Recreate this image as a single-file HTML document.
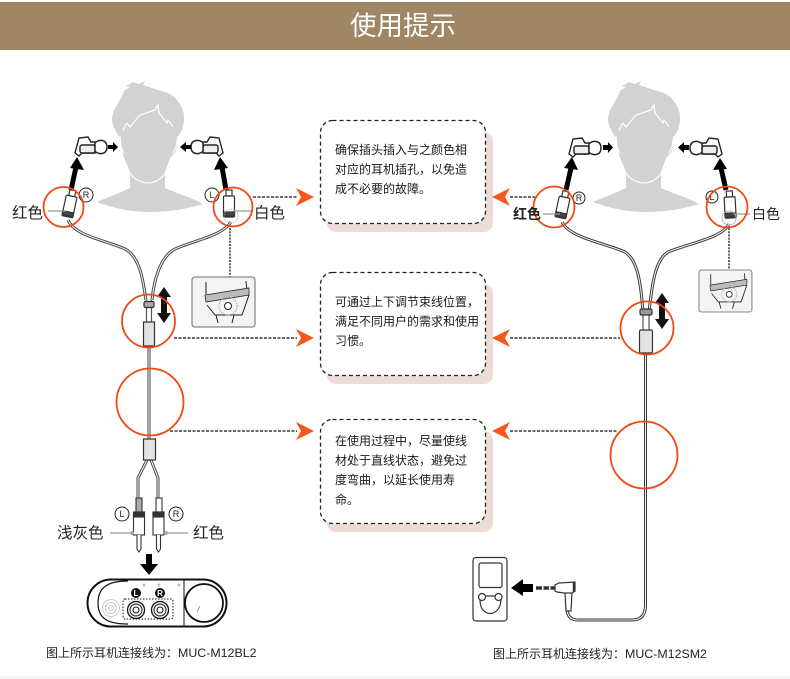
<!DOCTYPE html>
<html lang="zh"><head><meta charset="utf-8"><title>使用提示</title>
<style>
html,body{margin:0;padding:0;background:#fff}
body{width:790px;height:679px;overflow:hidden}
svg{display:block}
text{font-family:"Liberation Sans","Noto Sans CJK SC",sans-serif}
.b{font-size:12px;fill:#1a1a1a}
.l{font-size:15.5px;fill:#222}
.c{font-size:12px;fill:#222}
.s{font-size:9px;fill:#222;text-anchor:middle}
</style></head><body>
<svg width="790" height="679" viewBox="0 0 790 679" xmlns="http://www.w3.org/2000/svg">
<defs>
<g id="head">
<path d="M133 82L139 84L145 81L143 85L158 90C166 92 172 94 175 98C181 104 184 111 184 117C184 123 183 127 182 130L178 137L177 147L175 153L170 158L165 172L165 188C176 193 190 197 203 204C187 209 168 212 150 212C131 212 112 208 97 202C108 197 120 193 130 188L130 172L123 155L121 146L120 138C116 132 112 126 112 118C113 113 114 109 117 105L125 90L130 87L126 86Z" fill="#d2d2d2"/>
<path d="M123 130L127 123L130 127L140 115L155 110L158 105L159 113L167 123L168 120L173 127M129 172C133 178 140 183 148 183C156 183 163 178 167 170M120 136L121 147L124 153M178 136L176 147L173 153" fill="none" stroke="#fff" stroke-width="1.200"/>
</g>
<g id="bud" fill="none" stroke="#222" stroke-width="1.400">
<path d="M1 18L5 3L14 2L17 7L21 7L21 18L8 18L5 21Z" fill="#fff"/>
<rect x="6" y="10" width="15" height="8" rx="2" fill="#eee"/>
<path d="M21 8C24 4 33 4 33 12C33 20 24 20 21 16Z" fill="#fff"/>
</g>
<g id="plug" fill="none" stroke="#333" stroke-width="1.200">
<rect x="-3" y="-14" width="6" height="6" fill="#fff"/>
<rect x="-5.500" y="-8" width="11" height="21" rx="1" fill="#fff"/>
<rect x="-5.500" y="8" width="11" height="4" fill="#444"/>
</g>
<g id="hand">
<rect x="0" y="0" width="63" height="50" rx="3" fill="#f4f4f4" stroke="#888" stroke-width="1.300"/>
<path d="M14 5L14 17M54 4L55 14M15 28L23 38L50 38L57 18M24 38L26 46M42 38L40 46" fill="none" stroke="#222" stroke-width="1"/>
<path d="M13 18L57 11L57 18L14 25Z" fill="#bbb" stroke="#222" stroke-width=".8"/>
<circle cx="36" cy="29" r="9" fill="none" stroke="#aaa" stroke-dasharray="1.500 1"/>
<circle cx="36" cy="29" r="3.500" fill="#fff" stroke="#222"/>
</g>
<g id="dbl"><path d="M0 -18L-7 -8L-3 -8L-3 8L-7 8L0 18L7 8L3 8L3 -8L7 -8Z" fill="#111"/></g>
<g id="box">
<rect x="7" y="12" width="166" height="100" rx="9" fill="#ecdcd6"/>
<rect x="0.500" y="0.500" width="165" height="103" rx="12" fill="#fff" stroke="#222" stroke-width="1.300" stroke-dasharray="4 3"/>
</g>
<path id="ar" d="M0 0L-18 -9L-13 0L-18 9Z" fill="#f4581c"/>
</defs>

<rect x="0" y="2" width="790" height="48" fill="#a08763"/>
<text x="403" y="35" text-anchor="middle" font-size="26.500" fill="#fff">使用提示</text>

<!-- heads -->
<use href="#head"/>
<use href="#head" x="496"/>

<!-- text boxes -->
<use href="#box" x="320" y="120"/>
<use href="#box" x="320" y="272"/>
<g transform="translate(320 419)">
<rect x="7" y="12" width="166" height="101" rx="9" fill="#ecdcd6"/>
<rect x="0.500" y="0.500" width="165" height="104" rx="12" fill="#fff" stroke="#222" stroke-width="1.300" stroke-dasharray="4 3"/>
</g>
<text class="b" x="335" y="154">确保插头插入与之颜色相</text>
<text class="b" x="335" y="173.500">对应的耳机插孔&#xFF0C;以免造</text>
<text class="b" x="335" y="193">成不必要的故障。</text>
<text class="b" x="335" y="306">可通过上下调节束线位置&#xFF0C;</text>
<text class="b" x="335" y="325.500">满足不同用户的需求和使用</text>
<text class="b" x="335" y="345">习惯。</text>
<text class="b" x="335" y="445">在使用过程中&#xFF0C;尽量使线</text>
<text class="b" x="335" y="464.500">材处于直线状态&#xFF0C;避免过</text>
<text class="b" x="335" y="484">度弯曲&#xFF0C;以延长使用寿</text>
<text class="b" x="335" y="504">命。</text>

<!-- dashed leaders -->
<g fill="none" stroke="#111" stroke-width="1.200" stroke-dasharray="3 1.500">
<path d="M253 197H297M174 338H297M170 431H297M510 197H535M510 338H620M510 431H618"/>
</g>
<g fill="none" stroke="#111" stroke-width="1.300" stroke-dasharray="2 1.200">
<path d="M230 228V277M729 228V270"/>
</g>
<use href="#ar" x="314" y="197"/><use href="#ar" x="314" y="338"/><use href="#ar" x="314" y="431"/>
<use href="#ar" transform="translate(492 197) scale(-1 1)"/>
<use href="#ar" transform="translate(492 338) scale(-1 1)"/>
<use href="#ar" transform="translate(492 431) scale(-1 1)"/>

<!-- cables left -->
<g fill="none" stroke="#444" stroke-width="3">
<path d="M68 220C75 236 105 240 125 249C140 257 143 280 146 300"/>
<path d="M231 222C222 236 195 240 175 249C160 257 154 280 152 300"/>
<path d="M149 346V440"/>
<path d="M147 460L138 478V498M151 460L158 478V498"/>
</g>
<g fill="none" stroke="#eee" stroke-width="1.100">
<path d="M68 220C75 236 105 240 125 249C140 257 143 280 146 300"/>
<path d="M231 222C222 236 195 240 175 249C160 257 154 280 152 300"/>
<path d="M149 346V440"/>
<path d="M147 460L138 478V498M151 460L158 478V498"/>
</g>
<path d="M146.500 300V322M151.500 300V322" stroke="#555" stroke-width="1.200" fill="none"/>
<!-- cables right -->
<g fill="none" stroke="#333" stroke-width="3">
<path d="M562 222C570 238 605 243 625 252C638 260 641 285 643 312"/>
<path d="M729 224C722 238 690 243 668 252C655 260 652 285 649 312"/>
<path d="M645.500 353V605Q645.500 620 632 620H578Q567 620 567 608"/>
</g>
<g fill="none" stroke="#f2f2f2" stroke-width="1.100">
<path d="M562 222C570 238 605 243 625 252C638 260 641 285 643 312"/>
<path d="M729 224C722 238 690 243 668 252C655 260 652 285 649 312"/>
<path d="M645.500 353V605Q645.500 620 632 620H578Q567 620 567 608"/>
</g>
<path d="M643 312V330M649 312V330" stroke="#555" stroke-width="1.200" fill="none"/>

<!-- sliders / tubes -->
<g fill="#f2f2f2" stroke="#333" stroke-width="1.200">
<rect x="144" y="301.500" width="10" height="6" rx="1.500" fill="#aaa"/>
<rect x="143.500" y="322" width="11" height="24" fill="#e2e2e2"/>
<rect x="143.500" y="439" width="12" height="21" fill="#e2e2e2"/>
<rect x="640" y="309" width="12" height="6" rx="1.500" fill="#999"/>
<rect x="639.500" y="330" width="13" height="23" rx="1.500" fill="#e2e2e2"/>
</g>

<!-- earbuds -->
<use href="#bud" x="74" y="135"/>
<use href="#bud" transform="translate(224 135) scale(-1 1)"/>
<use href="#bud" x="568" y="136"/>
<use href="#bud" transform="translate(723 136) scale(-1 1)"/>

<!-- thick arrows to earbuds -->
<g stroke="#000" stroke-width="5" fill="none">
<path d="M71 190L76 167M226 190L222 167M566 190L571 168M726 190L721 168"/>
</g>
<g fill="#000">
<path d="M77 157L84 170L70 168Z"/><path d="M220 157L228 168L214 170Z"/>
<path d="M572 157L578 170L564 168Z"/><path d="M720 158L727 169L713 170Z"/>
<!-- small arrows -->
<path d="M108 145H113V142L118 147L113 152V149H108Z"/>
<path d="M191 145H186V142L180 147L186 152V149H191Z"/>
<path d="M603 145H608V142L613 147.500L608 153V150H603Z"/>
<path d="M689 145H684V142L678 147.500L684 153V150H689Z"/>
<!-- down arrow -->
<path d="M146 554H152V564H158L149 575L140 564H146Z"/>
<!-- player arrow -->
<path d="M533 584H523V579L511 588L523 596V592H533Z"/>
</g>
<use href="#dbl" x="164" y="305"/>
<use href="#dbl" x="662" y="311"/>

<!-- plugs -->
<use href="#plug" transform="translate(70 204) rotate(12)"/>
<use href="#plug" transform="translate(229 204) rotate(0)"/>
<use href="#plug" transform="translate(563 205) rotate(12)"/>
<use href="#plug" transform="translate(730 205) rotate(-3)"/>
<path d="M48 211H66M233 211H252M543 214H560M734 214H750M110 533H133M165 533H188" stroke="#999" stroke-width="1.200" fill="none"/>
<circle cx="231" cy="216" r="7" fill="none" stroke="#aaa" stroke-width=".8" stroke-dasharray="1.500 1"/>
<circle cx="729" cy="218" r="7" fill="none" stroke="#aaa" stroke-width=".8"/>

<!-- small enlarged boxes -->
<use href="#hand" x="192" y="277"/>
<g transform="translate(699 270) scale(.84)"><use href="#hand"/></g>

<!-- badges -->
<g fill="#fff" stroke="#222" stroke-width="1">
<circle cx="86" cy="195" r="7"/><circle cx="212" cy="195" r="7"/>
<circle cx="579" cy="198" r="6"/><circle cx="712" cy="197" r="6"/>
<circle cx="122" cy="514" r="7"/><circle cx="176" cy="514" r="7"/>
</g>
<text class="s" x="86" y="198">R</text><text class="s" x="212" y="198">L</text>
<text class="s" x="579" y="201">R</text><text class="s" x="712" y="200">L</text>
<text class="s" x="122" y="517">L</text><text class="s" x="176" y="517">R</text>

<!-- orange circles -->
<g fill="none" stroke="#ee4a12" stroke-width="1.800">
<circle cx="63.500" cy="207" r="20"/>
<circle cx="233" cy="207" r="19.500"/>
<circle cx="148.500" cy="321" r="26.500"/>
<circle cx="150" cy="402" r="33.500"/>
<circle cx="554" cy="207" r="20.500"/>
<circle cx="727" cy="207" r="20.500"/>
<circle cx="647" cy="328" r="26.500"/>
<circle cx="644" cy="455" r="33.500"/>
</g>

<!-- labels -->
<text class="l" x="12" y="218">红色</text>
<text class="l" x="254" y="218">白色</text>
<text class="l" x="513" y="219" style="font-size:14px;font-weight:bold">红色</text>
<text class="l" x="752" y="219" style="font-size:14px">白色</text>
<text class="l" x="57" y="538">浅灰色</text>
<text class="l" x="193" y="538">红色</text>

<!-- bottom plugs -->
<g stroke="#333" stroke-width="1.100" fill="#fff">
<rect x="136" y="498" width="6" height="14" fill="#aaa"/><rect x="156" y="498" width="6" height="14"/>
<rect x="133.500" y="512" width="11" height="23"/><rect x="153" y="512" width="11" height="23"/>
<rect x="133.500" y="512" width="11" height="5" fill="#333"/><rect x="153" y="512" width="11" height="5" fill="#333"/>
<path d="M137 535V549L139 552L141 549V535M156.500 535V549L158.500 552L160.500 549V535"/>
<circle cx="132" cy="533" r="2" fill="#aaa" stroke="none"/><circle cx="166" cy="533" r="2" fill="#aaa" stroke="none"/>
</g>

<!-- device -->
<g fill="none" stroke="#111">
<rect x="87.500" y="579.500" width="139" height="47" rx="23.500" stroke-width="2" fill="#fff"/>
<path d="M128 581C110 581 98 586 98 603C98 620 110 624 128 624" stroke-width="1.200" />
<path d="M184 580V626" stroke-width="1"/>
<rect x="123" y="599" width="50" height="20" rx="2" stroke-dasharray="1.500 1.500" stroke-width="1"/>
<circle cx="204" cy="603" r="19" stroke-width="1.800" fill="#fff"/>
<path d="M197 612L200 606" stroke="#999"/>
<circle cx="136" cy="610" r="8.500" stroke-width="1.300"/><circle cx="136" cy="610" r="6" stroke-width="1"/><circle cx="136" cy="610" r="3" stroke-width="1"/>
<circle cx="160" cy="610" r="8.500" stroke-width="1.300"/><circle cx="160" cy="610" r="6" stroke-width="1"/><circle cx="160" cy="610" r="3" stroke-width="1"/>
<g stroke="#ccc"><circle cx="111" cy="608" r="8.500"/><circle cx="111" cy="608" r="5.500"/><circle cx="111" cy="608" r="2.500"/></g>
</g>
<circle cx="136" cy="593" r="5" fill="#111"/><circle cx="160" cy="593" r="5" fill="#111"/>
<text x="136" y="596" text-anchor="middle" font-size="8" fill="#fff" font-weight="bold">L</text>
<text x="160" y="596" text-anchor="middle" font-size="8" fill="#fff" font-weight="bold">R</text>
<g fill="#bbb"><circle cx="144" cy="585" r="1.500"/><circle cx="159" cy="585" r="1.500"/><circle cx="179" cy="585" r="1.500"/></g>

<!-- mp3 player + jack -->
<g fill="none" stroke="#333" stroke-width="1.200">
<rect x="473" y="557.500" width="34" height="63.500" rx="3"/>
<rect x="479" y="563" width="23" height="24.500" rx="2"/>
<circle cx="482" cy="597" r="3.500"/><circle cx="498.500" cy="597" r="3.500"/>
<path d="M480 600C480 618 500 618 501 600M485.500 596H495"/>
<path d="M565 592L566 611H571L572 592" fill="#fff"/>
<path d="M555 585L559 583L575 582V591L572 593H564L557 592L555 591Z" fill="#fff"/>
<path d="M574 582V592" stroke-width="2.500"/>
</g>
<path d="M536 588H555" stroke="#333" stroke-width="3.500"/>
<path d="M542 588H543.500M549 588H550.500" stroke="#fff" stroke-width="3.500"/>

<!-- captions -->
<text class="c" x="46" y="657">图上所示耳机连接线为&#xFF1A;<tspan font-size="12.400">MUC-M12BL2</tspan></text>
<text class="c" x="493" y="658">图上所示耳机连接线为&#xFF1A;<tspan font-size="12.400">MUC-M12SM2</tspan></text>
<rect x="0" y="676" width="790" height="3" fill="#f6f6f6"/>
</svg>
</body></html>
